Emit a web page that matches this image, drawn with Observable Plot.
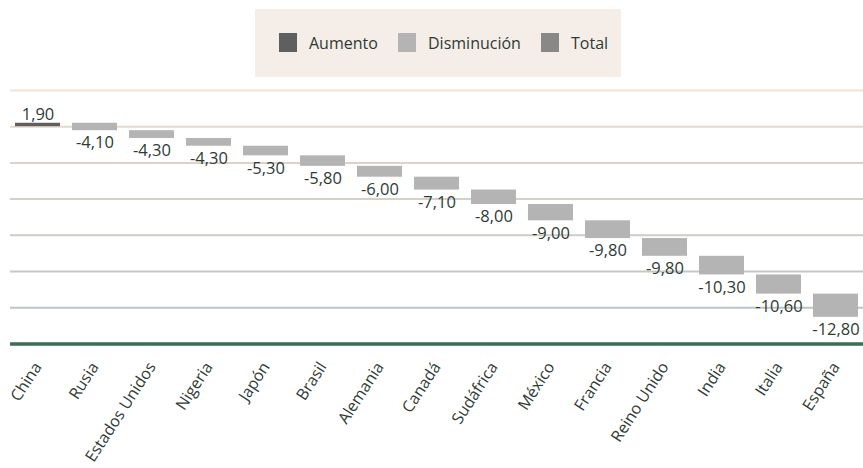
<!DOCTYPE html>
<html>
<head>
<meta charset="utf-8">
<script src="https://cdn.jsdelivr.net/npm/d3@7"></script>
<script src="https://cdn.jsdelivr.net/npm/@observablehq/plot@0.6"></script>
<style>
  html, body { margin: 0; padding: 0; background: #ffffff; }
  body { width: 863px; height: 468px; overflow: hidden; font-family: "Open Sans", sans-serif; }
  #legend-wrap { position: relative; height: 80px; }
  #legend { position: absolute; left: 255px; top: 9px; width: 366px; height: 68px; background: #f5ede8;
            font-size: 16px; color: #2e3b35; }
  .sw { position: absolute; top: 24px; width: 18px; height: 19px; }
  .lt { position: absolute; top: 23px; line-height: 22px; white-space: nowrap; }
  #chart svg { display: block; }
</style>
</head>
<body>
<div id="legend-wrap"><div id="legend"></div></div>
<div id="chart"></div>
<script>
const countries = ["China","Rusia","Estados Unidos","Nigeria","Japón","Brasil","Alemania","Canadá","Sudáfrica","México","Francia","Reino Unido","India","Italia","España"];
const values = [1.90,-4.10,-4.30,-4.30,-5.30,-5.80,-6.00,-7.10,-8.00,-9.00,-9.80,-9.80,-10.30,-10.60,-12.80];
const legendNames = ["Aumento","Disminución","Total"];
const legendColors = ["#5e5f5e","#b4b4b4","#888888"];
const gridValues = [20,0,-20,-40,-60,-80,-100];
const gridColors = ["#f1e3d8","#e7d8cd","#ddd3c9","#d5d1c8","#cdcdc5","#c5c9c3","#bdc5bf"];
const baseValue = -120;

// legend (positions inside the legend box)
const leg = document.getElementById("legend");
const swLeft = [24, 143, 286];
const txtLeft = [54, 173, 316];
legendNames.forEach((n, i) => {
  const sw = document.createElement("div"); sw.className = "sw";
  sw.style.left = swLeft[i] + "px"; sw.style.background = legendColors[i];
  const t = document.createElement("span"); t.className = "lt";
  t.style.left = txtLeft[i] + "px"; t.textContent = n;
  leg.appendChild(sw); leg.appendChild(t);
});

// waterfall data
let cum = 0;
const rows = countries.map((c, i) => {
  const start = cum; cum += values[i];
  return {country: c, value: values[i], start, end: cum,
          fill: values[i] >= 0 ? legendColors[0] : legendColors[1],
          label: values[i].toFixed(2).replace(".", ",")};
});
const grid = gridValues.map((v, i) => ({v, color: gridColors[i]}));

const chart = Plot.plot({
  width: 863,
  height: 388,
  marginTop: 10,
  marginBottom: 124.6,
  marginLeft: 10,
  marginRight: 0,
  style: {fontFamily: "'Open Sans', sans-serif", fontSize: "14px", color: "#2e3b35", background: "transparent"},
  x: {domain: countries, paddingInner: 0.21, paddingOuter: 0.08, label: null},
  y: {domain: [baseValue, 20], axis: null},
  color: {type: "identity"},
  marks: [
    Plot.ruleY(grid, {y: "v", stroke: "color", strokeWidth: 2}),
    Plot.ruleY([baseValue], {stroke: "#3b6f55", strokeWidth: 3.5}),
    Plot.barY(rows, {x: "country", y1: "start", y2: "end", fill: "fill"}),
    Plot.text(rows.filter(d => d.value < 0), {x: "country", y: "end", text: "label", lineAnchor: "top", dy: 6, fill: "#2e3b35", fontSize: 16.5}),
    Plot.text(rows.filter(d => d.value >= 0), {x: "country", y: "end", text: "label", lineAnchor: "bottom", dy: -3, fill: "#2e3b35", fontSize: 16.5}),
    Plot.axisX({tickRotate: -57, tickSize: 0, tickPadding: 20, fontSize: 16, fill: "#2e3b35", label: null})
  ]
});
document.getElementById("chart").appendChild(chart);
</script>
</body>
</html>
